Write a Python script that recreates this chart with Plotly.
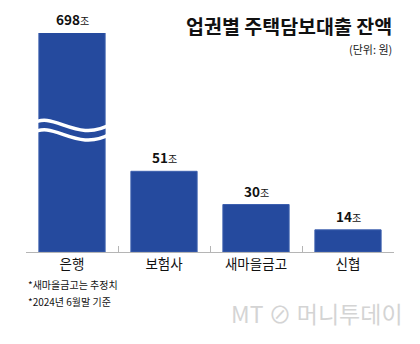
import plotly.graph_objects as go

categories = ["은행", "보험사", "새마을금고", "신협"]
values = [698, 51, 30, 14]
value_labels = ["698", "51", "30", "14"]
unit = "조"
title = "업권별 주택담보대출 잔액"
unit_note = "(단위: 원)"
footnotes = ["*새마을금고는 추정치", "*2024년 6월말 기준"]
watermark = "MT ⊘ 머니투데이"

BAR = "#254A9E"
FONT = "Noto Sans CJK KR"
Y_MAX = 138.4  # axis is broken: the first bar runs past the top

fig = go.Figure()
fig.add_trace(go.Bar(
    x=categories, y=values, width=0.72,
    marker=dict(color=BAR, line=dict(color="#3C5FAE", width=1)),
    hoverinfo="skip",
))

ann = []
for c, v, lab in zip(categories, values, value_labels):
    ann.append(dict(
        x=c, y=min(v, Y_MAX), xref="x", yref="y", yanchor="bottom", yshift=2,
        text=f"<b>{lab}</b><span style='font-size:10px'>{unit}</span>",
        showarrow=False, font=dict(family=FONT, size=13.5, color="#111"),
    ))

ann.append(dict(x=1, y=1.032, xref="paper", yref="paper", xanchor="right", yanchor="middle",
                text=f"<b>{title}</b>", showarrow=False,
                font=dict(family=FONT, size=19.5, color="#111")))
ann.append(dict(x=1, y=0.929, xref="paper", yref="paper", xanchor="right", yanchor="middle",
                text=unit_note, showarrow=False,
                font=dict(family=FONT, size=11, color="#222")))
for i, f in enumerate(footnotes):
    ann.append(dict(x=0, y=-0.148 - 0.076 * i, xref="paper", yref="paper",
                    xanchor="left", yanchor="middle", text=f, showarrow=False,
                    font=dict(family=FONT, size=10, color="#111")))
ann.append(dict(x=1.03, y=-0.279, xref="paper", yref="paper", xanchor="right",
                yanchor="middle", text=watermark, showarrow=False,
                font=dict(family=FONT, size=23, color="#d4d4d4")))

# axis-break wave on the first bar (category index 0)
shapes = []
for off in (0, -6):
    y0 = 81 + off
    path = (f"M -0.43,{y0} C -0.2,{y0 + 9} 0.05,{y0 - 13} 0.43,{y0}")
    shapes.append(dict(type="path", path=path, xref="x", yref="y",
                       line=dict(color="white", width=3.5), layer="above"))

fig.update_layout(
    width=420, height=344,
    margin=dict(l=26, r=26, t=33, b=92),
    paper_bgcolor="white", plot_bgcolor="white",
    showlegend=False, bargap=0.28,
    annotations=ann, shapes=shapes,
    xaxis=dict(type="category", tickson="boundaries", ticks="inside", ticklen=6,
               tickcolor="#b5b5b5", showline=True, linecolor="#b5b5b5", linewidth=1,
               showgrid=False, tickfont=dict(family=FONT, size=13.5, color="#111"),
               range=[-0.5, 3.5]),
    yaxis=dict(range=[0, Y_MAX], visible=False, showgrid=False, zeroline=False),
)

fig.write_html("out.html")
